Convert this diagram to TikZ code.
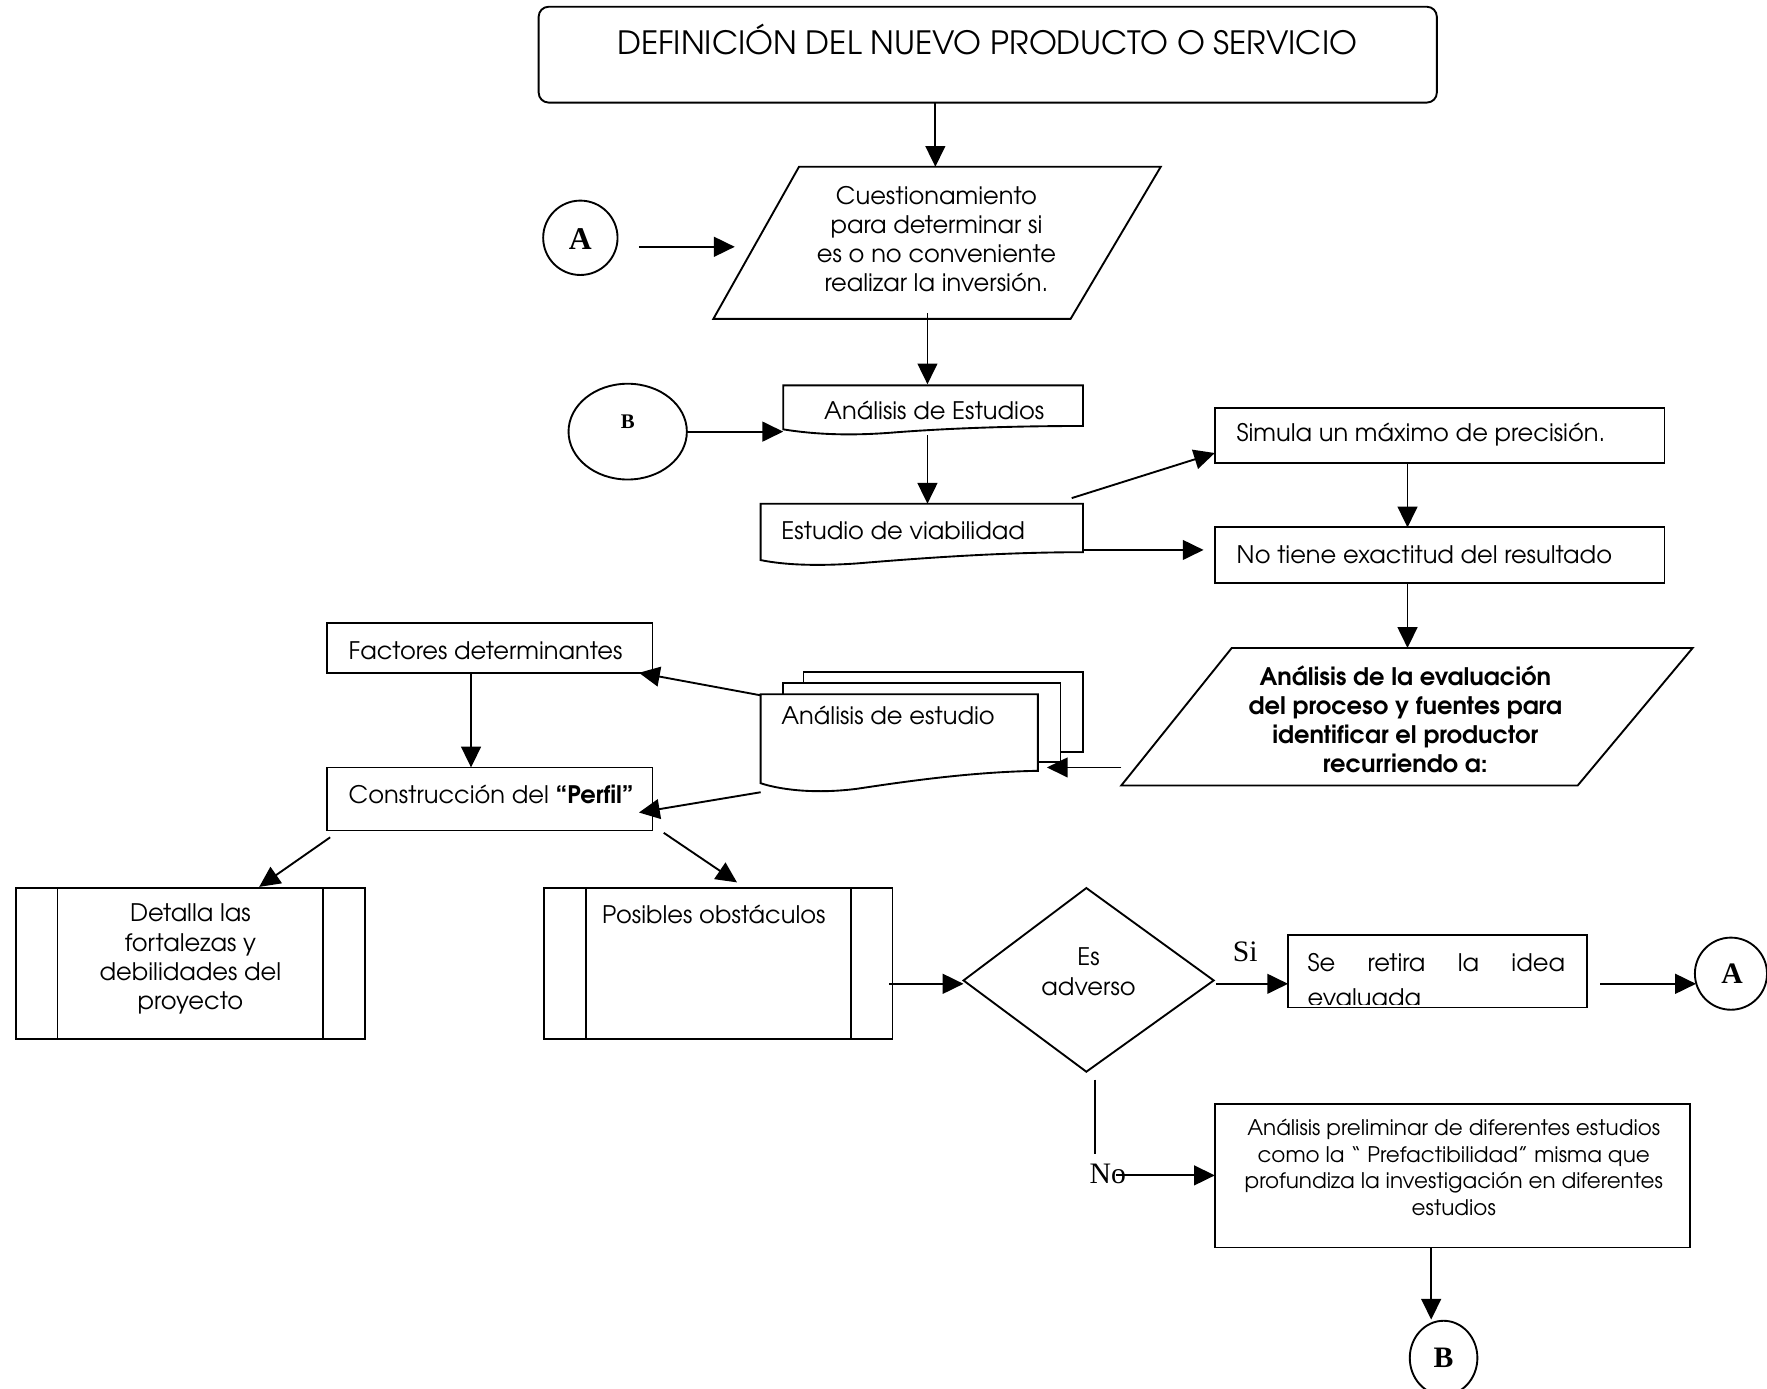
\documentclass[tikz,border=0pt]{standalone}
\usepackage{fontspec}
\setmainfont{texgyreadventor}[Extension=.otf, UprightFont=*-regular, BoldFont=*-bold, ItalicFont=*-italic, BoldItalicFont=*-bolditalic]
\newfontfamily\timesfont{Liberation Serif}
\usetikzlibrary{arrows.meta, shapes.geometric, fit}

\newcommand\bodyfont{\fontsize{12.2pt}{14.7pt}\selectfont}
\newcommand\titlefont{\fontsize{16.2pt}{20pt}\selectfont}
\newcommand\smallbodyfont{\fontsize{10.85pt}{13.4pt}\selectfont}

\tikzset{
  box/.style={draw, line width=0.95pt, inner sep=0pt, fill=white},
  shape line/.style={draw, line width=0.95pt, fill=white},
  arr/.style={line width=0.95pt, -{Triangle[length=10.5pt,width=10pt]}},
  plain/.style={line width=0.95pt},
  txt/.style={inner sep=0pt, font=\bodyfont},
  conn/.style={draw, line width=0.95pt, inner sep=0pt, fill=white},
}

\begin{document}
\begin{tikzpicture}[x=0.02cm, y=-0.02cm]
\useasboundingbox[fill=white] (0,0) rectangle (1568,1232);

% ---------- Title ----------
\node[box, rounded corners=5pt, fit={(478,6)(1275,91)}] (def) {};
\node[txt, font=\titlefont] (deft) at (876,35) {DEFINICIÓN DEL NUEVO PRODUCTO O SERVICIO};

% ---------- Questioning (parallelogram) ----------
\draw[shape line] (709,148) -- (1030,148) -- (950,283) -- (633,283) -- cycle;
\node[txt, align=center] (cuest) at (831,212)
  {Cuestionamiento\\para determinar si\\es o no conveniente\\realizar la inversión.};

% ---------- Connector A ----------
\node[conn, circle, minimum size=66*0.02cm] (conA) at (515,211) {};
\node[inner sep=0pt, font=\timesfont\bfseries\fontsize{16pt}{18pt}\selectfont] (conAt) at (515,212) {A};

% ---------- Análisis de Estudios (document) ----------
\draw[shape line] (695,342) -- (961,342) -- (961,378)
  .. controls (900,378) and (840,380) .. (790,384)
  .. controls (750,387) and (720,385) .. (695,381) -- cycle;
\node[txt] (anest) at (829,364) {Análisis de Estudios};

% ---------- Connector B ----------
\node[conn, ellipse, minimum width=105*0.02cm, minimum height=85*0.02cm] (conB) at (557,383) {};
\node[inner sep=0pt, font=\timesfont\bfseries\fontsize{10.5pt}{12pt}\selectfont] (conBt) at (557,374) {B};

% ---------- Estudio de viabilidad (document) ----------
\draw[shape line] (675,447) -- (961,447) -- (961,490)
  .. controls (890,490) and (820,495) .. (760,500)
  .. controls (715,503) and (690,500) .. (675,497) -- cycle;
\node[txt, anchor=west] (viab) at (693,471) {Estudio de viabilidad};

% ---------- Simula / No tiene ----------
\node[box, fit={(1078,362)(1477,411)}] (simula) {};
\node[txt, anchor=west] (simulat) at (1097,386) {Simula un máximo de precisión.};
\node[box, fit={(1078,468)(1477,517)}] (exact) {};
\node[txt, anchor=west] (exactt) at (1097,492) {No tiene exactitud del resultado};

% ---------- Evaluation (parallelogram) ----------
\draw[shape line] (1093,575) -- (1502,575) -- (1400,697) -- (995,697) -- cycle;
\node[txt, align=center, font=\bodyfont\bfseries] (evalt) at (1247,638)
  {Análisis de la evaluación\\del proceso y fuentes para\\identificar el productor\\recurriendo a:};

% ---------- Análisis de estudio (multi-document) ----------
\draw[shape line] (713,596) rectangle (961,667);
\draw[shape line] (695,606) rectangle (941,676);
\draw[shape line] (675,616) -- (921,616) -- (921,684)
  .. controls (860,685) and (800,694) .. (760,700)
  .. controls (720,705) and (690,700) .. (675,695) -- cycle;
\node[txt, anchor=west] (multit) at (693,635) {Análisis de estudio};

% ---------- Factores / Perfil ----------
\node[box, fit={(290,553)(579,597)}] (fact) {};
\node[txt, anchor=west] (factt) at (309,577) {Factores determinantes};
\node[box, fit={(290,681)(579,737)}] (perfil) {};
\node[txt, anchor=west] (perfilt) at (309,705) {Construcción del \textbf{“Perfil”}};

% ---------- Predefined processes ----------
\node[box, fit={(14,788)(324,922)}] (detalla) {};
\draw[plain] (51,788) -- (51,922) (287,788) -- (287,922);
\node[txt, align=center] (detallat) at (169,851)
  {Detalla las\\fortalezas y\\debilidades del\\proyecto};

\node[box, fit={(483,788)(792,922)}] (obst) {};
\draw[plain] (520,788) -- (520,922) (755,788) -- (755,922);
\node[txt, anchor=west] (obstt) at (534,811) {Posibles obstáculos};

% ---------- Decision ----------
\draw[shape line] (855,870) -- (964,788) -- (1077,870) -- (964,951) -- cycle;
\node[txt, align=center, font=\fontsize{12.2pt}{15.3pt}\selectfont] (decit) at (966,862) {Es\\adverso};
\node[inner sep=0pt, font=\timesfont\fontsize{15pt}{17pt}\selectfont] (si) at (1105,845) {Si};
\node[inner sep=0pt, font=\timesfont\fontsize{15pt}{17pt}\selectfont] (no) at (983,1042) {No};

% ---------- Se retira la idea evaluada ----------
\node[box, fit={(1143,830)(1408,894)}] (retira) {};
\begin{scope}
  \clip (1143,830) rectangle (1408,891);
  \node[txt, anchor=west] (retira1) at (1160,854) {\makebox[130pt][s]{Se retira la idea}};
  \node[txt, anchor=west] (retira2) at (1160,885) {evaluada};
\end{scope}

\node[conn, ellipse, minimum width=64*0.02cm, minimum height=64*0.02cm] (conA2) at (1536,864) {};
\node[inner sep=0pt, font=\timesfont\bfseries\fontsize{15pt}{17pt}\selectfont] (conA2t) at (1537,864) {A};

% ---------- Prefactibilidad ----------
\node[box, fit={(1078,980)(1500,1107)}] (pref) {};
\node[txt, align=center, font=\smallbodyfont] (preft) at (1290,1036)
  {Análisis preliminar de diferentes estudios\\como la “ Prefactibilidad” misma que\\profundiza la investigación en diferentes\\estudios};

\node[conn, ellipse, minimum width=60*0.02cm, minimum height=66*0.02cm] (conB2) at (1281,1205) {};
\node[inner sep=0pt, font=\timesfont\bfseries\fontsize{15pt}{17pt}\selectfont] (conB2t) at (1281,1205) {B};

% ---------- Connector end points ----------
\coordinate (c1a) at (830,91);   \coordinate (c1b) at (830,148);
\coordinate (c2a) at (567,219);  \coordinate (c2b) at (652,219);
\coordinate (c3a) at (823,278);  \coordinate (c3b) at (823,341);
\coordinate (c4a) at (610,383);  \coordinate (c4b) at (695,383);
\coordinate (c5a) at (823,386);  \coordinate (c5b) at (823,447);
\coordinate (c6a) at (951,442);  \coordinate (c6b) at (1078,402);
\coordinate (c7a) at (961,488);  \coordinate (c7b) at (1068,488);
\coordinate (c8a) at (1249,411); \coordinate (c8b) at (1249,468);
\coordinate (c9a) at (1249,517); \coordinate (c9b) at (1249,575);
\coordinate (c10a) at (995,681); \coordinate (c10b) at (929,681);
\coordinate (c11a) at (675,617); \coordinate (c11b) at (567,597);
\coordinate (c12a) at (418,597); \coordinate (c12b) at (418,681);
\coordinate (c13a) at (675,703); \coordinate (c13b) at (567,721);
\coordinate (c14a) at (293,743); \coordinate (c14b) at (230,787);
\coordinate (c15a) at (589,739); \coordinate (c15b) at (654,783);
\coordinate (c16a) at (789,873); \coordinate (c16b) at (855,873);
\coordinate (c17a) at (1079,873); \coordinate (c17b) at (1143,873);
\coordinate (c18a) at (1420,873); \coordinate (c18b) at (1505,873);
\coordinate (c19a) at (972,958); \coordinate (c19b) at (972,1024);
\coordinate (c20a) at (990,1043); \coordinate (c20b) at (1078,1043);
\coordinate (c21a) at (1270,1107); \coordinate (c21b) at (1270,1171);

% ---------- Connectors ----------
\draw[arr] (c1a) -- (c1b);
\draw[arr] (c2a) -- (c2b);
\draw[arr] (c3a) -- (c3b);
\draw[arr] (c4a) -- (c4b);
\draw[arr] (c5a) -- (c5b);
\draw[arr] (c6a) -- (c6b);
\draw[arr] (c7a) -- (c7b);
\draw[arr] (c8a) -- (c8b);
\draw[arr] (c9a) -- (c9b);
\draw[arr] (c10a) -- (c10b);
\draw[arr] (c11a) -- (c11b);
\draw[arr] (c12a) -- (c12b);
\draw[arr] (c13a) -- (c13b);
\draw[arr] (c14a) -- (c14b);
\draw[arr] (c15a) -- (c15b);
\draw[arr] (c16a) -- (c16b);
\draw[arr] (c17a) -- (c17b);
\draw[arr] (c18a) -- (c18b);
\draw[plain] (c19a) -- (c19b);
\draw[arr] (c20a) -- (c20b);
\draw[arr] (c21a) -- (c21b);
\end{tikzpicture}
\end{document}
